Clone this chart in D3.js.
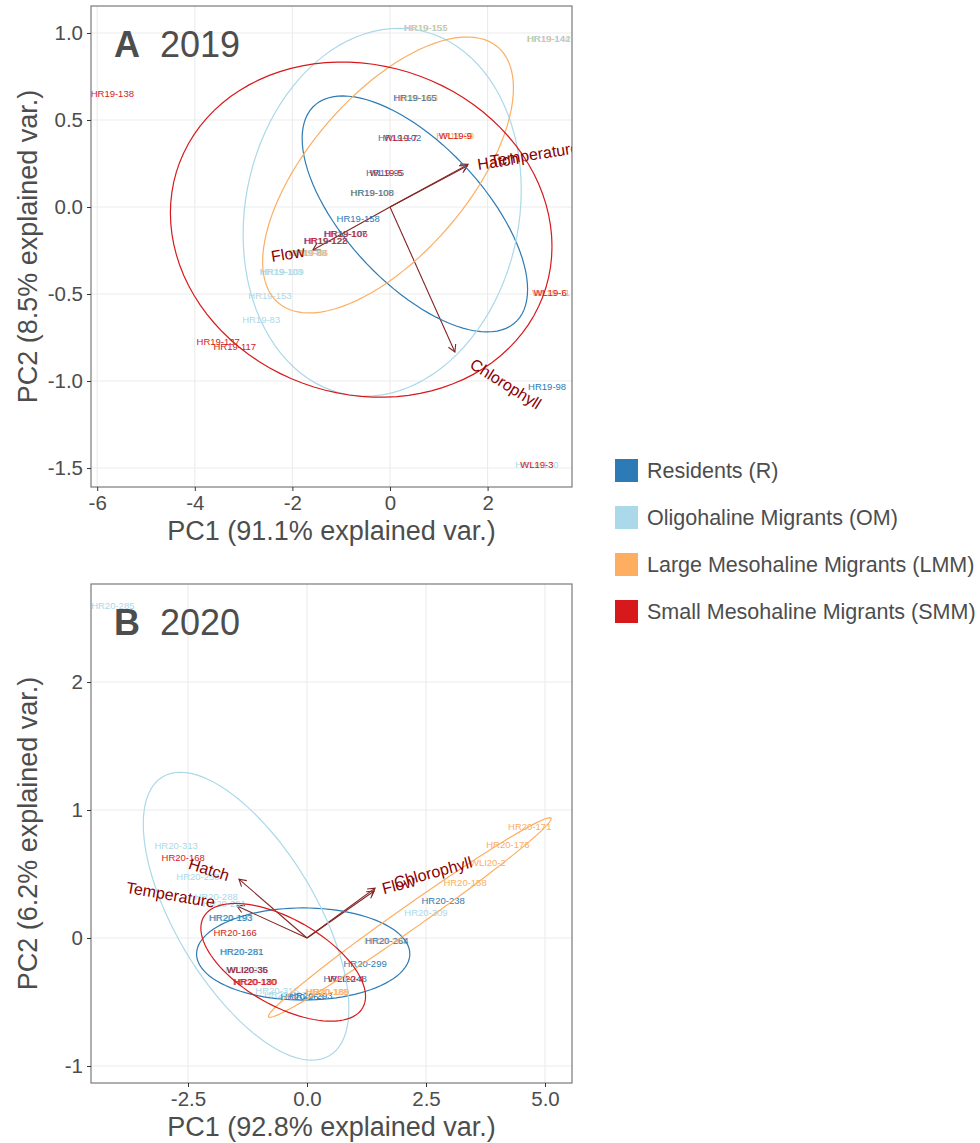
<!DOCTYPE html>
<html lang="en">
<head>
<meta charset="UTF-8">
<title>PCA biplots 2019 / 2020</title>
<script src="https://cdn.jsdelivr.net/npm/d3@7/dist/d3.min.js"></script>
<style>
  body { margin: 0; background: #fff; }
  text { font-family: "Liberation Sans", Arial, Helvetica, sans-serif; }
</style>
</head>
<body>
<script>

// groups and colours
var groups = ["R", "OM", "LMM", "SMM"];
var groupNames = ["Residents (R)", "Oligohaline Migrants (OM)",
                  "Large Mesohaline Migrants (LMM)", "Small Mesohaline Migrants (SMM)"];
var groupColors = ["#2c7bb6", "#abd9e9", "#fdae61", "#d7191c"];

// ---------- 2019 ----------
var ids19 = ["HR19-138", "HR19-155", "HR19-151", "HR19-142", "HR19-144", "HR19-163", "HR19-165",
             "HR19-102", "WL19-7", "HR19-99", "WL19-9", "HR19-95", "WL19-5", "HR19-100", "HR19-108",
             "HR19-158", "HR19-107", "HR19-106", "HR19-122", "HR19-128", "HR19-88", "HR19-86",
             "HR19-89", "HR19-103", "HR19-109", "HR19-153", "HR19-83", "HR19-137", "HR19-117",
             "WL19-11", "WL19-6", "HR19-98", "HR19-130", "WL19-3"];
var pc1_19 = [-5.69, 0.74, 0.72, 3.26, 3.24, 0.54, 0.51,
              0.2, 0.22, 1.34, 1.34, -0.1, -0.08, -0.35, -0.37,
              -0.65, -0.92, -0.9, -1.33, -1.31, -1.68, -1.66,
              -1.7, -2.23, -2.21, -2.46, -2.64, -3.52, -3.18,
              3.3, 3.28, 3.22, 3.01, 3.01];
var pc2_19 = [0.65, 1.03, 1.03, 0.965, 0.965, 0.63, 0.63,
              0.4, 0.4, 0.41, 0.41, 0.2, 0.2, 0.08, 0.08,
              -0.065, -0.155, -0.155, -0.195, -0.195, -0.26, -0.26,
              -0.26, -0.37, -0.37, -0.51, -0.65, -0.775, -0.8,
              -0.49, -0.49, -1.03, -1.48, -1.48];
var grp19 = ["SMM", "LMM", "OM", "LMM", "OM", "LMM", "R",
             "R", "SMM", "LMM", "SMM", "R", "SMM", "LMM", "R",
             "R", "R", "SMM", "R", "SMM", "LMM", "LMM",
             "OM", "OM", "OM", "OM", "OM", "SMM", "SMM",
             "LMM", "SMM", "R", "OM", "SMM"];

var vars19 = ["Temperature", "Hatch", "Flow", "Chlorophyll"];
var load1_19 = [1.6, 1.58, -1.58, 1.33];
var load2_19 = [0.245, 0.236, -0.247, -0.833];

// normal data ellipses: centre, half extents, correlation
var ell19 = [
  { g: "R",   cx: 0.51,  cy: -0.04, sx: 2.31, sy: 0.678, r: -0.64 },
  { g: "OM",  cx: -0.16, cy: -0.03, sx: 2.85, sy: 1.057, r: 0.12 },
  { g: "LMM", cx: -0.04, cy: 0.184, sx: 2.57, sy: 0.793, r: 0.63 },
  { g: "SMM", cx: -0.59, cy: -0.13, sx: 3.91, sy: 0.963, r: -0.1 }
];

var xTicks19 = [-6, -4, -2, 0, 2];
var xTickLabels19 = ["-6", "-4", "-2", "0", "2"];
var yTicks19 = [1, 0.5, 0, -0.5, -1, -1.5];
var yTickLabels19 = ["1.0", "0.5", "0.0", "-0.5", "-1.0", "-1.5"];
var xDom19 = [-6.127, 3.73];
var yDom19 = [-1.609, 1.155];

// ---------- 2020 ----------
var ids20 = ["HR20-285", "HR20-313", "HR20-168", "HR20-258", "HR20-288", "HR20-291", "HR20-290",
             "HR20-193", "HR20-166", "HR20-287", "HR20-281", "HR20-286", "WLI20-35", "WLI20-36",
             "HR20-130", "HR20-180", "HR20-315", "HR20-317", "HR20-263", "HR20-293", "HR20-188",
             "HR20-189", "HR20-248", "WLI20-4", "HR20-299", "HR20-261", "HR20-264", "HR20-309",
             "HR20-238", "HR20-158", "WLI20-2", "HR20-176", "HR20-171"];
var pc1_20 = [-4.08, -2.75, -2.6, -2.29, -1.91, -1.74, -1.62,
              -1.6, -1.51, -1.39, -1.37, -1.27, -1.26, -1.25,
              -1.1, -1.08, -0.63, -0.45, -0.1, 0.08, 0.42,
              0.44, 0.8, 0.82, 1.22, 1.66, 1.68, 2.5,
              2.86, 3.32, 3.8, 4.22, 4.68];
var pc2_20 = [2.6, 0.72, 0.63, 0.48, 0.32, 0.27, 0.16,
              0.16, 0.04, -0.11, -0.11, -0.25, -0.25, -0.25,
              -0.34, -0.34, -0.41, -0.44, -0.46, -0.45, -0.42,
              -0.42, -0.32, -0.32, -0.2, -0.02, -0.02, 0.2,
              0.29, 0.43, 0.59, 0.73, 0.87];
var grp20 = ["OM", "OM", "SMM", "OM", "OM", "OM", "OM",
             "R", "SMM", "OM", "R", "OM", "R", "SMM",
             "SMM", "SMM", "OM", "OM", "R", "R", "LMM",
             "LMM", "R", "SMM", "R", "LMM", "R", "OM",
             "R", "LMM", "LMM", "LMM", "LMM"];

var vars20 = ["Temperature", "Hatch", "Flow", "Chlorophyll"];
var load1_20 = [-1.47, -1.43, 1.41, 1.43];
var load2_20 = [0.25, 0.46, 0.367, 0.39];

var ell20 = [
  { g: "R",   cx: -0.08, cy: -0.125, sx: 2.24, sy: 0.36,  r: 0 },
  { g: "OM",  cx: -1.28, cy: 0.17,   sx: 2.16, sy: 1.125, r: -0.64 },
  { g: "LMM", cx: 2.16,  cy: 0.16,   sx: 2.97, sy: 0.78,  r: 0.99 },
  { g: "SMM", cx: -0.5,  cy: -0.19,  sx: 1.73, sy: 0.46,  r: -0.58 }
];

var xTicks20 = [-2.5, 0, 2.5, 5];
var xTickLabels20 = ["-2.5", "0.0", "2.5", "5.0"];
var yTicks20 = [2, 1, 0, -1];
var yTickLabels20 = ["2", "1", "0", "-1"];
var xDom20 = [-4.538, 5.567];
var yDom20 = [-1.133, 2.766];

var color = d3.scaleOrdinal().domain(groups).range(groupColors);

var svg = d3.select("body").append("svg")
    .attr("width", 980)
    .attr("height", 1143);

function drawPanel(p) {
    var x = d3.scaleLinear().domain(p.xDom).range([p.left, p.right]);
    var y = d3.scaleLinear().domain(p.yDom).range([p.bottom, p.top]);
    var g = svg.append("g");

    g.append("clipPath").attr("id", p.id + "-clip")
      .append("rect")
        .attr("x", p.left).attr("y", p.top)
        .attr("width", p.right - p.left).attr("height", p.bottom - p.top);

    var inner = g.append("g").attr("clip-path", "url(#" + p.id + "-clip)");

    // grid
    inner.selectAll(".gx").data(p.xTicks).enter().append("line")
        .attr("x1", function(d) { return x(d); })
        .attr("x2", function(d) { return x(d); })
        .attr("y1", p.top).attr("y2", p.bottom)
        .attr("stroke", "#ebebeb").attr("stroke-width", 1.1);
    inner.selectAll(".gy").data(p.yTicks).enter().append("line")
        .attr("y1", function(d) { return y(d); })
        .attr("y2", function(d) { return y(d); })
        .attr("x1", p.left).attr("x2", p.right)
        .attr("stroke", "#ebebeb").attr("stroke-width", 1.1);

    // loading arrows
    var arrows = p.vars.map(function(v, i) { return { v: v, x: p.l1[i], y: p.l2[i] }; });
    var ag = inner.append("g").attr("stroke", "#832424").attr("stroke-width", 1.1).attr("fill", "none");
    arrows.forEach(function(a) {
        var x0 = x(0), y0 = y(0), x1 = x(a.x), y1 = y(a.y);
        var ang = Math.atan2(y1 - y0, x1 - x0);
        var L = 8, w = Math.PI / 6;
        ag.append("line").attr("x1", x0).attr("y1", y0).attr("x2", x1).attr("y2", y1);
        ag.append("path").attr("d",
            "M" + (x1 - L * Math.cos(ang - w)) + "," + (y1 - L * Math.sin(ang - w)) +
            "L" + x1 + "," + y1 +
            "L" + (x1 - L * Math.cos(ang + w)) + "," + (y1 - L * Math.sin(ang + w)));
    });

    // sample labels
    var pts = p.ids.map(function(id, i) { return { id: id, x: p.pc1[i], y: p.pc2[i], g: p.grp[i] }; });
    inner.selectAll(".pt").data(pts).enter().append("text")
        .attr("x", function(d) { return x(d.x); })
        .attr("y", function(d) { return y(d.y); })
        .attr("dy", "0.35em")
        .attr("text-anchor", "middle")
        .attr("font-size", "9.5px")
        .attr("fill", function(d) { return color(d.g); })
        .text(function(d) { return d.id; });

    // ellipses
    var line = d3.line()
        .x(function(d) { return x(d[0]); })
        .y(function(d) { return y(d[1]); });
    inner.selectAll(".ell").data(p.ell).enter().append("path")
        .attr("fill", "none")
        .attr("stroke", function(d) { return color(d.g); })
        .attr("stroke-width", 1.2)
        .attr("d", function(d) {
            var pts = d3.range(0, 101).map(function(k) {
                var t = 2 * Math.PI * k / 100;
                return [d.cx + d.sx * Math.cos(t),
                        d.cy + d.sy * (d.r * Math.cos(t) + Math.sqrt(1 - d.r * d.r) * Math.sin(t))];
            });
            return line(pts);
        });

    // variable names
    arrows.forEach(function(a) {
        var deg = Math.atan(a.y / a.x) * 180 / Math.PI;
        var t = inner.append("text")
            .attr("transform", "translate(" + x(a.x) + "," + y(a.y) + ") rotate(" + (-deg) + ")")
            .attr("dy", "0.35em")
            .attr("font-size", "16px")
            .attr("fill", "#8b0000")
            .text(a.v);
        var tw = t.node().getComputedTextLength();
        t.attr("x", a.x > 0 ? 0.25 * tw : -1.25 * tw);
    });

    // border
    g.append("rect")
        .attr("x", p.left).attr("y", p.top)
        .attr("width", p.right - p.left).attr("height", p.bottom - p.top)
        .attr("fill", "none").attr("stroke", "#7a7a7a").attr("stroke-width", 1.2);

    // axes
    var xa = g.append("g").attr("transform", "translate(0," + p.bottom + ")")
        .call(d3.axisBottom(x).tickValues(p.xTicks).tickSize(4).tickPadding(4)
              .tickFormat(function(d, i) { return p.xLab[i]; }));
    var ya = g.append("g").attr("transform", "translate(" + p.left + ",0)")
        .call(d3.axisLeft(y).tickValues(p.yTicks).tickSize(4).tickPadding(4)
              .tickFormat(function(d, i) { return p.yLab[i]; }));
    [xa, ya].forEach(function(a) {
        a.attr("font-family", null).attr("font-size", null);
        a.select(".domain").remove();
        a.selectAll(".tick line").attr("stroke", "#333");
        a.selectAll(".tick text").attr("fill", "#4d4d4d").attr("font-size", "20.5px");
    });

    // axis titles
    g.append("text")
        .attr("x", (p.left + p.right) / 2).attr("y", p.bottom + 53)
        .attr("text-anchor", "middle").attr("font-size", "27px").attr("fill", "#4d4d4d")
        .text(p.xTitle);
    g.append("text")
        .attr("transform", "translate(" + 37 + "," + (p.top + p.bottom) / 2 + ") rotate(-90)")
        .attr("text-anchor", "middle").attr("font-size", "27px").attr("fill", "#4d4d4d")
        .text(p.yTitle);

    // panel tag
    var tag = g.append("text")
        .attr("x", p.left + 23).attr("y", p.top + 51)
        .attr("font-size", "36px").attr("fill", "#4d4d4d");
    tag.append("tspan").attr("font-weight", "bold").text(p.tag);
    tag.append("tspan").attr("dx", 20).text(p.year);
}

drawPanel({
    id: "a", left: 91, right: 572, top: 6, bottom: 487,
    xDom: xDom19, yDom: yDom19, xTicks: xTicks19, yTicks: yTicks19,
    xLab: xTickLabels19, yLab: yTickLabels19,
    ids: ids19, pc1: pc1_19, pc2: pc2_19, grp: grp19,
    vars: vars19, l1: load1_19, l2: load2_19, ell: ell19,
    xTitle: "PC1 (91.1% explained var.)", yTitle: "PC2 (8.5% explained var.)",
    tag: "A", year: "2019"
});

drawPanel({
    id: "b", left: 91, right: 572, top: 584, bottom: 1083,
    xDom: xDom20, yDom: yDom20, xTicks: xTicks20, yTicks: yTicks20,
    xLab: xTickLabels20, yLab: yTickLabels20,
    ids: ids20, pc1: pc1_20, pc2: pc2_20, grp: grp20,
    vars: vars20, l1: load1_20, l2: load2_20, ell: ell20,
    xTitle: "PC1 (92.8% explained var.)", yTitle: "PC2 (6.2% explained var.)",
    tag: "B", year: "2020"
});

// legend
var leg = svg.append("g").attr("transform", "translate(615,459)");
var item = leg.selectAll(".item").data(groups).enter().append("g")
    .attr("transform", function(d, i) { return "translate(0," + (i * 47) + ")"; });
item.append("rect")
    .attr("width", 23).attr("height", 23)
    .attr("fill", function(d) { return color(d); });
item.append("text")
    .attr("x", 32).attr("y", 11.5).attr("dy", "0.35em")
    .attr("font-size", "21.5px").attr("fill", "#4d4d4d")
    .text(function(d, i) { return groupNames[i]; });

</script>
</body>
</html>
